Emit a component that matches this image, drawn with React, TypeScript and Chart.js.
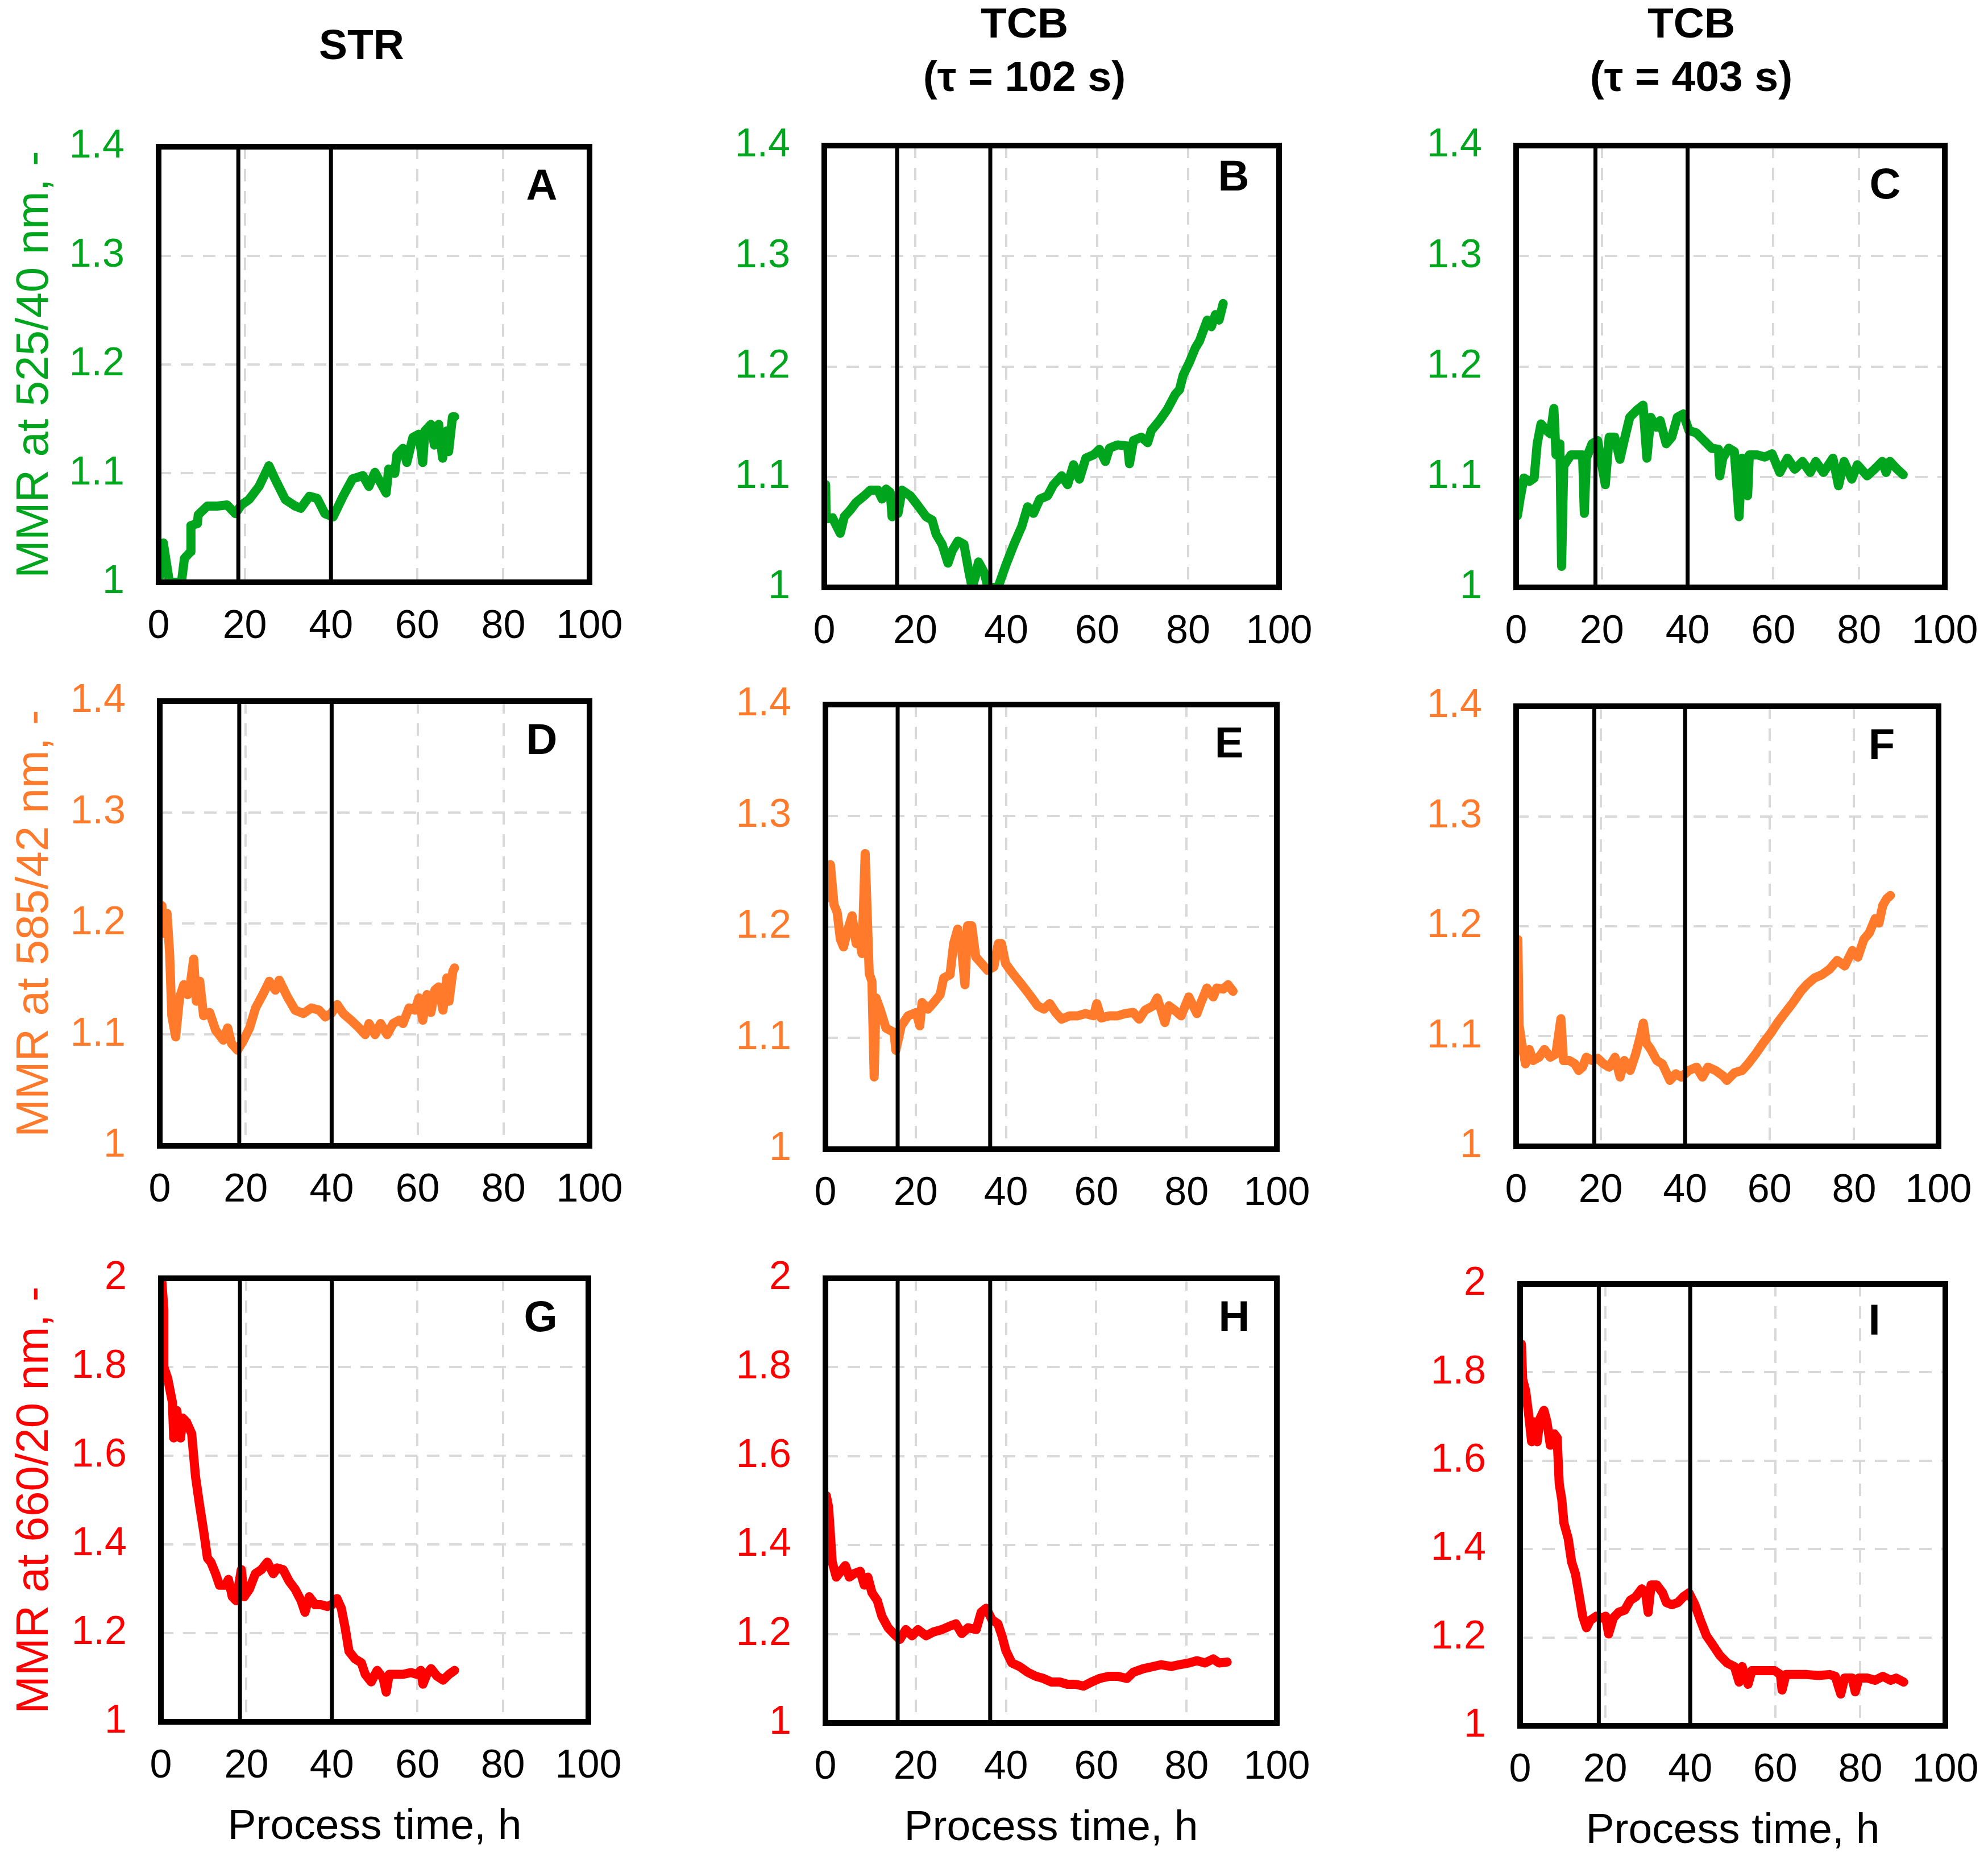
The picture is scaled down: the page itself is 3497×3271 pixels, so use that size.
import { useEffect, useRef } from "react"
import { Chart, registerables } from "chart.js"
import type { Plugin } from "chart.js"

// Register Chart.js components
Chart.register(...registerables)

const FONT = '"Liberation Sans", Arial, sans-serif'

// Phase switch times (h) per process
const strPhases = [18.5, 40]
const tcb102Phases = [16, 36.5]
const tcb403Phases = [18.5, 40]

// A: STR, 525/40 nm
const aTime = [
  0, 1.1, 2.5, 4, 5.3, 6, 7.4, 7.5, 9, 9.2,
  11.3, 13.6, 15.9, 17.8, 19.2, 21, 23.3, 25.6, 27, 29.4,
  31.7, 33, 35, 36.8, 38.6, 40.5, 42.8, 45, 47.4, 48.8,
  50.2, 52.8, 53.4, 54.8, 55.3, 56.7, 57.6, 59, 60.4, 61.3,
  61.8, 63.2, 64, 65, 65.9, 66.9, 67.3, 68.2, 68.7,
]
const aMmr = [
  1.0, 1.036, 1.0, 1.0, 1.0, 1.022, 1.028, 1.052, 1.054, 1.062,
  1.07, 1.07, 1.071, 1.063, 1.071, 1.076, 1.088, 1.107, 1.095, 1.076,
  1.07, 1.068, 1.079, 1.077, 1.063, 1.06, 1.079, 1.095, 1.098, 1.088,
  1.101, 1.082, 1.104, 1.1, 1.117, 1.123, 1.11, 1.133, 1.136, 1.11,
  1.139, 1.145, 1.126, 1.145, 1.114, 1.139, 1.12, 1.152, 1.152,
]

// B: TCB 102 s, 525/40 nm
const bTime = [
  0.3, 0.4, 1.8, 3.5, 4.4, 5.7, 7, 8.8, 10.1, 11.8,
  12.7, 13.6, 14.5, 14.9, 16.2, 17.1, 18.9, 20.6, 22.4, 23.7,
  24.6, 25.9, 27.2, 28.1, 29.4, 30.7, 31.8, 32.5, 33.3, 33.9,
  35.1, 36, 38.2, 39.9, 41.7, 43.4, 44.7, 46, 47.4, 49.1,
  50.4, 52.2, 53.5, 54.8, 56.1, 57.5, 59.2, 60.5, 61.8, 62.7,
  64.5, 66.7, 67.1, 68, 69.7, 71.1, 71.9, 73.7, 75.4, 77.2,
  78.1, 78.9, 80.3, 81.6, 82.5, 83.3, 84.2, 85.1, 86, 86.8,
  87.7,
]
const bMmr = [
  1.093, 1.062, 1.063, 1.049, 1.064, 1.07, 1.077, 1.083, 1.088, 1.088,
  1.08, 1.089, 1.086, 1.064, 1.067, 1.088, 1.083, 1.074, 1.064, 1.061,
  1.048, 1.039, 1.022, 1.033, 1.042, 1.039, 1.014, 1.0, 1.011, 1.023,
  1.014, 1.0, 1.0, 1.02, 1.039, 1.055, 1.073, 1.067, 1.08, 1.083,
  1.093, 1.101, 1.093, 1.111, 1.098, 1.117, 1.12, 1.125, 1.114, 1.126,
  1.129, 1.128, 1.112, 1.133, 1.136, 1.131, 1.142, 1.151, 1.161, 1.175,
  1.179, 1.192, 1.204, 1.217, 1.223, 1.232, 1.242, 1.236, 1.247, 1.242,
  1.257,
]

// C: TCB 403 s, 525/40 nm
const cTime = [
  0.3, 0.9, 1.8, 3.1, 4.2, 4.9, 5.8, 7.1, 8, 8.8,
  9.3, 10.2, 10.6, 11.1, 12.8, 14.6, 15.5, 15.9, 16.4, 17.7,
  19, 20.8, 21.7, 23, 24.2, 25.2, 26.5, 28.3, 29.6, 30.5,
  31.4, 32.7, 33.6, 35, 36.3, 37.6, 39, 40.3, 42, 43.8,
  45.6, 47.2, 47.5, 48.2, 49.6, 50.9, 52, 52.7, 54, 54.4,
  56.2, 58, 59.7, 61.5, 63.3, 65, 66.8, 68.6, 69.9, 71.7,
  73.9, 75.2, 76.5, 78.3, 79.6, 81.9, 83.6, 85.4, 86.3, 87.2,
  88.9, 90.3,
]
const cMmr = [
  1.065, 1.08, 1.099, 1.096, 1.099, 1.13, 1.148, 1.142, 1.139, 1.162,
  1.12, 1.13, 1.019, 1.11, 1.12, 1.12, 1.12, 1.067, 1.117, 1.13,
  1.133, 1.093, 1.136, 1.136, 1.116, 1.133, 1.154, 1.161, 1.165, 1.117,
  1.154, 1.145, 1.151, 1.13, 1.136, 1.154, 1.157, 1.142, 1.14, 1.133,
  1.126, 1.125, 1.101, 1.117, 1.126, 1.123, 1.064, 1.117, 1.083, 1.12,
  1.12, 1.118, 1.121, 1.104, 1.117, 1.107, 1.114, 1.104, 1.114, 1.104,
  1.117, 1.092, 1.114, 1.098, 1.111, 1.101, 1.107, 1.114, 1.104, 1.114,
  1.107, 1.102,
]

// D: STR, 585/42 nm
const dTime = [
  0.5, 0.7, 1.7, 2.3, 2.8, 3.7, 4.6, 5.6, 6.5, 7.2,
  7.9, 8.5, 9.3, 10.2, 11.6, 13, 14.8, 15.8, 16.7, 18.1,
  19.5, 20.9, 22.3, 24.1, 25.5, 26.9, 27.8, 29.7, 31.5, 33.4,
  35.3, 37.1, 38.5, 39.9, 41.3, 42.7, 44.5, 46.4, 47.8, 48.7,
  50.1, 51.4, 52.9, 54.3, 55.7, 56.6, 58, 59.4, 60.3, 61.2,
  62.2, 63.1, 64, 64.9, 65.9, 66.8, 67.3, 68.2, 68.6,
]
const dMmr = [
  1.216, 1.191, 1.209, 1.173, 1.117, 1.098, 1.133, 1.145, 1.136, 1.148,
  1.168, 1.13, 1.148, 1.117, 1.12, 1.104, 1.095, 1.106, 1.092, 1.086,
  1.095, 1.106, 1.124, 1.137, 1.148, 1.14, 1.149, 1.134, 1.122, 1.119,
  1.124, 1.122, 1.116, 1.119, 1.127, 1.119, 1.113, 1.106, 1.1, 1.11,
  1.1, 1.11, 1.1, 1.11, 1.113, 1.11, 1.124, 1.122, 1.133, 1.113,
  1.136, 1.12, 1.14, 1.143, 1.122, 1.151, 1.13, 1.157, 1.16,
]

// E: TCB 102 s, 585/42 nm
const eTime = [
  0.2, 0.4, 1.1, 1.9, 2.6, 3.3, 4, 5, 5.9, 6.8,
  7.4, 8.1, 8.8, 9.7, 10.3, 10.8, 11.2, 12.1, 13.4, 15.2,
  15.6, 16.8, 18.3, 20.1, 20.9, 21.4, 22.7, 24, 25.4, 26.2,
  27.6, 28.4, 29.3, 30.2, 30.9, 31.5, 32.4, 33.3, 34.6, 35.9,
  37.3, 38.3, 39, 39.9, 41.7, 43.5, 45.2, 47, 48.4, 49.7,
  51, 52.3, 54.1, 55.9, 57.6, 59.4, 60.1, 61.1, 62.9, 64.7,
  66.4, 68.2, 69.5, 70.8, 72.6, 73.5, 74.3, 75.2, 76.1, 77.4,
  78.8, 80.5, 82.3, 83.2, 84.5, 85.9, 86.7, 88.1, 89.2, 90.3,
]
const eMmr = [
  1.244, 1.226, 1.256, 1.22, 1.213, 1.189, 1.182, 1.198, 1.21, 1.185,
  1.191, 1.176, 1.266, 1.158, 1.151, 1.065, 1.136, 1.126, 1.109, 1.105,
  1.089, 1.111, 1.12, 1.123, 1.111, 1.132, 1.126, 1.132, 1.139, 1.154,
  1.157, 1.185, 1.198, 1.179, 1.148, 1.201, 1.201, 1.173, 1.167, 1.161,
  1.164, 1.185, 1.185, 1.167, 1.157, 1.148, 1.139, 1.129, 1.126, 1.131,
  1.123, 1.117, 1.12, 1.12, 1.122, 1.12, 1.131, 1.118, 1.12, 1.12,
  1.122, 1.123, 1.117, 1.125, 1.129, 1.136, 1.126, 1.114, 1.129, 1.125,
  1.12, 1.137, 1.122, 1.132, 1.145, 1.137, 1.145, 1.144, 1.148, 1.142,
]

// F: TCB 403 s, 585/42 nm
const fTime = [
  0.4, 0.7, 1.3, 2.2, 3.1, 4, 5.4, 6.7, 8.1, 9.4,
  10.6, 11.2, 12.6, 13.9, 14.8, 15.7, 16.6, 18, 19.3, 20.7,
  22, 23.4, 24.6, 25.6, 27, 28.3, 29.4, 30.1, 30.8, 31.9,
  33.3, 34.6, 36.4, 37.8, 39.1, 40.9, 42.7, 44.1, 45.4, 47.2,
  49, 49.9, 51.7, 53.5, 54.9, 56.7, 58.5, 60.3, 62, 63.8,
  65.6, 67.4, 68.8, 70.6, 72.4, 74.2, 76, 77.8, 79.6, 80.9,
  82.3, 83.6, 85, 85.9, 86.8, 87.7, 88.6,
]
const fMmr = [
  1.188, 1.11, 1.094, 1.075, 1.088, 1.078, 1.081, 1.088, 1.081, 1.084,
  1.116, 1.078, 1.078, 1.075, 1.069, 1.072, 1.081, 1.078, 1.08, 1.075,
  1.072, 1.081, 1.063, 1.078, 1.069, 1.084, 1.1, 1.112, 1.094, 1.088,
  1.078, 1.075, 1.06, 1.066, 1.063, 1.069, 1.072, 1.063, 1.072, 1.069,
  1.064, 1.06, 1.067, 1.069, 1.075, 1.084, 1.094, 1.103, 1.113, 1.122,
  1.131, 1.141, 1.147, 1.153, 1.156, 1.161, 1.169, 1.164, 1.178, 1.172,
  1.188, 1.194, 1.207, 1.203, 1.219, 1.225, 1.228,
]

// G: STR, 660/20 nm
const gTime = [
  0.2, 0.7, 0.7, 1.6, 2.7, 3, 3.7, 4.6, 5.1, 6,
  7.2, 8.1, 9, 10, 10.9, 11.7, 12.8, 13.7, 15.1, 15.8,
  16.7, 17.6, 18.8, 19.5, 20.7, 22.1, 23.5, 24.9, 26.3, 27.2,
  28.6, 30, 31.4, 32.8, 33.7, 34.7, 36.1, 37.5, 38.9, 40,
  41.2, 42.2, 43.1, 44, 45.4, 46.9, 47.8, 49.2, 50.6, 52,
  52.7, 53.4, 54.8, 56.6, 58.5, 59.9, 60.8, 61.3, 62.2, 63.2,
  64.6, 66, 67.4, 68.7,
]
const gMmr = [
  1.996, 1.93, 1.8, 1.774, 1.72, 1.64, 1.702, 1.64, 1.685, 1.676,
  1.65, 1.553, 1.492, 1.43, 1.369, 1.36, 1.334, 1.308, 1.308, 1.321,
  1.282, 1.273, 1.343, 1.282, 1.299, 1.334, 1.343, 1.36, 1.334, 1.347,
  1.343, 1.317, 1.299, 1.273, 1.247, 1.282, 1.264, 1.264, 1.26, 1.264,
  1.278, 1.256, 1.212, 1.159, 1.142, 1.133, 1.107, 1.09, 1.116, 1.098,
  1.067, 1.107, 1.107, 1.107, 1.111, 1.107, 1.116, 1.085, 1.107, 1.12,
  1.103, 1.094, 1.107, 1.116,
]

// H: TCB 102 s, 660/20 nm
const hTime = [
  0.2, 0.7, 1.5, 2.4, 3.7, 4.4, 5.3, 6.4, 7.7, 8.6,
  9.4, 10.3, 11.5, 12.5, 13.9, 15.2, 16.5, 17.8, 19.2, 20.5,
  22.3, 24, 25.8, 27.6, 28.9, 30.2, 31.6, 33.4, 34.5, 35.6,
  36.9, 38.2, 39.1, 40, 41.3, 43, 44.8, 46.6, 48.3, 50.1,
  51.9, 53.6, 55.4, 57.2, 58.9, 60.7, 62.9, 64.7, 66.8, 68.2,
  70.4, 72.6, 74.4, 76.6, 78.4, 80.6, 82.3, 84.1, 85.9, 87.2,
  89,
]
const hMmr = [
  1.511, 1.485, 1.362, 1.328, 1.345, 1.354, 1.328, 1.336, 1.341, 1.31,
  1.328, 1.293, 1.275, 1.24, 1.214, 1.2, 1.188, 1.21, 1.196, 1.21,
  1.196, 1.205, 1.21, 1.218, 1.223, 1.201, 1.214, 1.21, 1.249, 1.258,
  1.232, 1.223, 1.196, 1.162, 1.135, 1.127, 1.114, 1.105, 1.1, 1.092,
  1.092, 1.087, 1.087, 1.083, 1.092, 1.1, 1.105, 1.105, 1.1, 1.114,
  1.122, 1.127, 1.131, 1.127, 1.131, 1.135, 1.14, 1.135, 1.144, 1.135,
  1.137,
]

// I: TCB 403 s, 660/20 nm
const iTime = [
  0.3, 0.6, 1.3, 2, 2.7, 3.3, 4, 4.7, 5.6, 6.3,
  7.1, 8, 8.7, 9.2, 9.8, 10.3, 11.3, 12.1, 13, 13.8,
  14.7, 15.6, 16.5, 17.9, 19.2, 20.1, 20.8, 21.9, 23.2, 24.6,
  25.9, 27.2, 28.6, 29.5, 30.1, 30.8, 32.1, 33.5, 34.4, 35.7,
  37.1, 38.4, 39.7, 41.1, 42.4, 43.8, 45.1, 46.9, 48.7, 50.4,
  51.5, 52.2, 53.6, 54.5, 56.3, 58, 59.8, 61.2, 61.6, 62.5,
  64.7, 67.4, 70.1, 72.8, 74.1, 75.4, 76.3, 78.1, 78.8, 79.7,
  81.7, 83.5, 85.3, 87.1, 88.4, 90.2,
]
const iMmr = [
  1.864, 1.784, 1.758, 1.705, 1.643, 1.688, 1.643, 1.696, 1.714, 1.688,
  1.635, 1.661, 1.652, 1.547, 1.512, 1.459, 1.424, 1.371, 1.344, 1.3,
  1.248, 1.222, 1.239, 1.248, 1.244, 1.248, 1.208, 1.244, 1.257, 1.262,
  1.284, 1.292, 1.31, 1.301, 1.257, 1.319, 1.319, 1.301, 1.279, 1.274,
  1.279, 1.292, 1.301, 1.274, 1.239, 1.204, 1.186, 1.16, 1.142, 1.134,
  1.099, 1.134, 1.094, 1.125, 1.125, 1.125, 1.125, 1.116, 1.081, 1.116,
  1.116, 1.116, 1.114, 1.116, 1.112, 1.072, 1.108, 1.108, 1.077, 1.108,
  1.108, 1.103, 1.112, 1.103, 1.108, 1.099,
]

const GREEN = "#00a51e"
const ORANGE = "#ff7a2a"
const RED = "#ff0000"

interface PanelProps {
  time: number[]
  mmr: number[]
  phases: number[]
  color: string
  yMin: number
  yMax: number
  yStep: number
  letter: string
  box: [number, number, number, number] // plot area: left, top, right, bottom
  letterAt?: [number, number] // letter offset from the top-right corner
  yTitle?: string
  xTitle?: string
}

function Panel({ time, mmr, phases, color, yMin, yMax, yStep, letter, box, letterAt = [84, 72], yTitle, xTitle }: PanelProps) {
  const chartRef = useRef<HTMLCanvasElement>(null)

  // y ticks padding is added to the scale's top padding, so keep room for it
  const yW = yTitle ? box[0] : 200
  const xH = xTitle ? 240 : 130
  const padTop = 110
  const padRight = 105
  const left = box[0] - yW
  const top = box[1] - padTop
  const width = yW + (box[2] - box[0]) + padRight
  const height = padTop + (box[3] - box[1]) + xH

  useEffect(() => {
    if (!chartRef.current) return
    const ctx = chartRef.current.getContext("2d")
    if (!ctx) return

    // frame round the plot area and the panel letter
    const frame: Plugin<"line"> = {
      id: "frame",
      afterDraw(chart) {
        const { ctx: c, chartArea: a } = chart
        c.save()
        c.lineWidth = 10
        c.strokeStyle = "#000"
        c.strokeRect(a.left, a.top, a.right - a.left, a.bottom - a.top)
        c.fillStyle = "#000"
        c.font = `bold 76px ${FONT}`
        c.textAlign = "center"
        c.textBaseline = "middle"
        c.fillText(letter, a.right - letterAt[0], a.top + letterAt[1])
        c.restore()
      },
    }

    const gridOpts = { color: "#d9d9d9", lineWidth: 4, drawTicks: false }
    const borderOpts = { display: false, dash: [22, 17] }

    const chart = new Chart(ctx, {
      type: "line",
      data: {
        datasets: [
          ...phases.map((p) => ({
            data: [
              { x: p, y: yMin },
              { x: p, y: yMax },
            ],
            borderColor: "#000",
            borderWidth: 7,
            pointRadius: 0,
          })),
          {
            data: time.map((t, i) => ({ x: t, y: mmr[i] })),
            borderColor: color,
            borderWidth: 16,
            pointRadius: 0,
            tension: 0,
            borderJoinStyle: "round" as const,
            borderCapStyle: "round" as const,
          },
        ],
      },
      options: {
        responsive: true,
        maintainAspectRatio: false,
        animation: false,
        layout: { padding: { top: padTop, right: padRight, left: 0, bottom: 0 } },
        plugins: {
          legend: { display: false },
          tooltip: { enabled: false },
        },
        scales: {
          x: {
            type: "linear",
            min: 0,
            max: 100,
            ticks: {
              stepSize: 20,
              color: "#000",
              font: { family: FONT, size: 70 },
              padding: 37,
              maxRotation: 0,
            },
            grid: gridOpts,
            border: borderOpts,
            title: {
              display: !!xTitle,
              text: xTitle ?? "",
              color: "#000",
              font: { family: FONT, size: 75 },
              padding: { top: 0, bottom: 10 },
            },
            afterFit: (s) => {
              s.height = xH
            },
          },
          y: {
            type: "linear",
            min: yMin,
            max: yMax,
            ticks: {
              stepSize: yStep,
              color,
              font: { family: FONT, size: 70 },
              padding: 60,
              callback: (v) => String(Number(Number(v).toFixed(2))),
            },
            grid: gridOpts,
            border: borderOpts,
            title: {
              display: !!yTitle,
              text: yTitle ?? "",
              color,
              font: { family: FONT, size: 80 },
              padding: { top: 14, bottom: 0 },
            },
            afterFit: (s) => {
              s.width = yW
            },
          },
        },
      },
      plugins: [frame],
    })

    // Cleanup function
    return () => {
      chart.destroy()
    }
  }, [])

  return (
    <div style={{ position: "absolute", left, top, width, height }}>
      <canvas ref={chartRef}></canvas>
    </div>
  )
}

function ColumnTitle({ lines, cx, cy }: { lines: string[]; cx: number; cy: number }) {
  const lh = 94
  return (
    <div
      style={{
        position: "absolute",
        left: cx - 400,
        width: 800,
        top: cy - (lines.length * lh) / 2,
        textAlign: "center",
        fontFamily: FONT,
        fontWeight: "bold",
        fontSize: 75,
        lineHeight: `${lh}px`,
        color: "#000",
      }}
    >
      {lines.map((l) => (
        <div key={l}>{l}</div>
      ))}
    </div>
  )
}

export default function App() {
  const xTitle = "Process time, h"
  return (
    <div style={{ position: "absolute", left: 0, top: 0, width: 3497, height: 3271, background: "#fff", overflow: "hidden" }}>
      <ColumnTitle lines={["STR"]} cx={636} cy={78} />
      <ColumnTitle lines={["TCB", "(τ = 102 s)"]} cx={1802} cy={87} />
      <ColumnTitle lines={["TCB", "(τ = 403 s)"]} cx={2975} cy={87} />

      <Panel time={aTime} mmr={aMmr} phases={strPhases} color={GREEN} yMin={1} yMax={1.4} yStep={0.1} letter="A" box={[279, 258, 1037, 1024]} yTitle="MMR at 525/40 nm, -" />
      <Panel time={bTime} mmr={bMmr} phases={tcb102Phases} color={GREEN} yMin={1} yMax={1.4} yStep={0.1} letter="B" box={[1450, 256, 2250, 1033]} letterAt={[80, 58]} />
      <Panel time={cTime} mmr={cMmr} phases={tcb403Phases} color={GREEN} yMin={1} yMax={1.4} yStep={0.1} letter="C" box={[2667, 256, 3421, 1033]} letterAt={[105, 72]} />

      <Panel time={dTime} mmr={dMmr} phases={strPhases} color={ORANGE} yMin={1} yMax={1.4} yStep={0.1} letter="D" box={[281, 1233, 1037, 2015]} yTitle="MMR at 585/42 nm, -" />
      <Panel time={eTime} mmr={eMmr} phases={tcb102Phases} color={ORANGE} yMin={1} yMax={1.4} yStep={0.1} letter="E" box={[1452, 1239, 2246, 2021]} />
      <Panel time={fTime} mmr={fMmr} phases={tcb403Phases} color={ORANGE} yMin={1} yMax={1.4} yStep={0.1} letter="F" box={[2667, 1242, 3410, 2016]} letterAt={[100, 72]} />

      <Panel time={gTime} mmr={gMmr} phases={strPhases} color={RED} yMin={1} yMax={2} yStep={0.2} letter="G" box={[283, 2248, 1035, 3028]} yTitle="MMR at 660/20 nm, -" xTitle={xTitle} />
      <Panel time={hTime} mmr={hMmr} phases={tcb102Phases} color={RED} yMin={1} yMax={2} yStep={0.2} letter="H" box={[1452, 2248, 2246, 3030]} xTitle={xTitle} letterAt={[75, 72]} />
      <Panel time={iTime} mmr={iMmr} phases={tcb403Phases} color={RED} yMin={1} yMax={2} yStep={0.2} letter="I" box={[2674, 2258, 3422, 3035]} xTitle={xTitle} letterAt={[125, 68]} />
    </div>
  )
}
